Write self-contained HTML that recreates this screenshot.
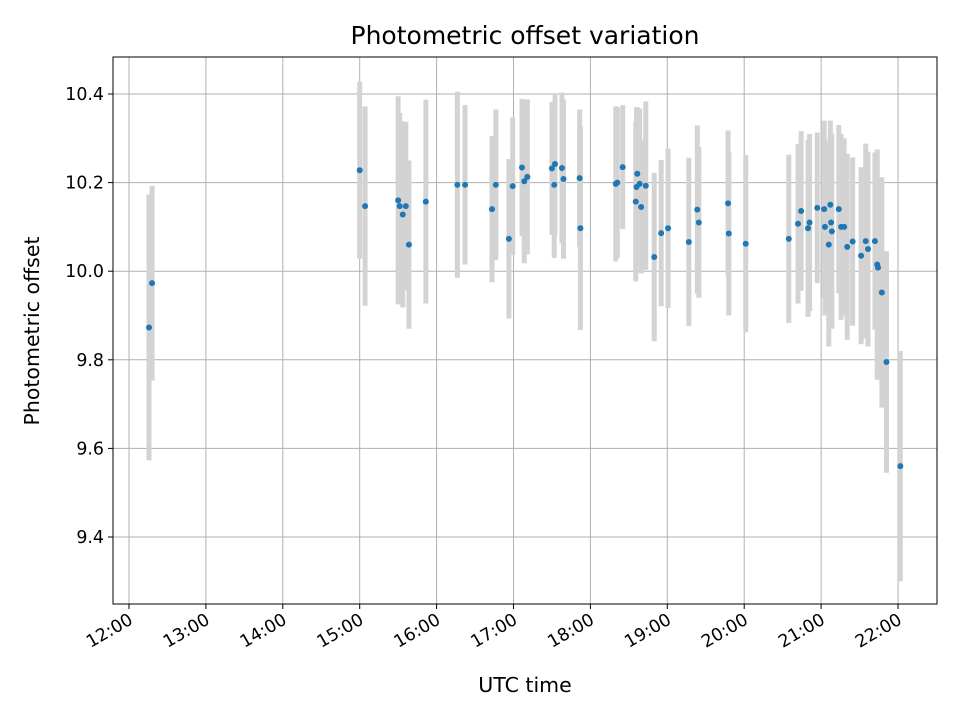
<!DOCTYPE html>
<html><head><meta charset="utf-8"><style>
body{margin:0;background:#fff;font-family:"Liberation Sans","DejaVu Sans",sans-serif;}
svg text{font-family:"DejaVu Sans","Liberation Sans",sans-serif;}
</style></head><body>
<svg id="chart" width="960" height="720" xmlns="http://www.w3.org/2000/svg">
<rect width="960" height="720" fill="#fff"/>
<text x="525" y="44" text-anchor="middle" font-size="25">Photometric offset variation</text>
<text x="525" y="692" text-anchor="middle" font-size="20.5">UTC time</text>
<text transform="translate(39,331) rotate(-90)" text-anchor="middle" font-size="20.5">Photometric offset</text>
<g id="grid"></g>
<g id="errs"></g>
<g id="pts"></g>
<g id="axes"></g>
</svg>
<script>
const times=[12.26,12.30,15.00,15.07,15.50,15.52,15.56,15.60,15.64,15.86,16.27,16.37,16.72,16.77,16.94,16.99,17.11,17.14,17.18,17.50,17.53,17.54,17.63,17.65,17.86,17.87,18.33,18.35,18.42,18.59,18.60,18.61,18.64,18.66,18.72,18.83,18.92,19.01,19.28,19.39,19.41,19.79,19.80,20.02,20.58,20.70,20.74,20.83,20.85,20.95,21.04,21.05,21.10,21.12,21.13,21.14,21.23,21.26,21.30,21.34,21.41,21.52,21.58,21.61,21.70,21.73,21.74,21.79,21.85,22.03];
const offsets=[9.873,9.973,10.228,10.147,10.160,10.147,10.128,10.147,10.060,10.157,10.195,10.195,10.140,10.195,10.073,10.192,10.234,10.203,10.213,10.232,10.195,10.242,10.233,10.208,10.210,10.097,10.197,10.200,10.235,10.157,10.190,10.220,10.197,10.145,10.193,10.032,10.086,10.097,10.066,10.139,10.110,10.153,10.085,10.062,10.073,10.107,10.136,10.097,10.110,10.143,10.140,10.100,10.060,10.150,10.110,10.090,10.140,10.100,10.100,10.055,10.067,10.035,10.068,10.050,10.068,10.015,10.008,9.952,9.795,9.560];
const errors=[0.30,0.22,0.20,0.225,0.235,0.21,0.21,0.19,0.19,0.23,0.21,0.18,0.165,0.17,0.18,0.155,0.155,0.185,0.175,0.15,0.165,0.16,0.17,0.18,0.155,0.23,0.175,0.17,0.14,0.18,0.18,0.15,0.17,0.15,0.19,0.19,0.165,0.18,0.19,0.19,0.17,0.165,0.185,0.20,0.19,0.18,0.18,0.20,0.20,0.17,0.20,0.20,0.23,0.19,0.20,0.22,0.19,0.21,0.20,0.21,0.19,0.20,0.22,0.22,0.20,0.26,0.20,0.26,0.25,0.26];
const xTickHours=[12,13,14,15,16,17,18,19,20,21,22];
const xTickLabels=["12:00","13:00","14:00","15:00","16:00","17:00","18:00","19:00","20:00","21:00","22:00"];
const yTicks=[9.4,9.6,9.8,10.0,10.2,10.4];
const yTickLabels=["9.4","9.6","9.8","10.0","10.2","10.4"];

const L=113,R=937,T=57,B=604;
const xs=h=>129+(h-12)*76.9;
const ys=v=>94+(10.4-v)*443;
const NS="http://www.w3.org/2000/svg";
function mk(tag,attrs,parent){const e=document.createElementNS(NS,tag);for(const k in attrs)e.setAttribute(k,attrs[k]);parent.appendChild(e);return e;}
const grid=document.getElementById('grid'),errs=document.getElementById('errs'),pts=document.getElementById('pts'),axes=document.getElementById('axes');
xTickHours.forEach((h,i)=>{
  const x=xs(h);
  const g=mk('line',{x1:x,x2:x,y1:T,y2:B,stroke:'#b0b0b0','stroke-width':1},grid);
  
  
  const t=mk('line',{x1:x,x2:x,y1:B,y2:B+5,stroke:'#000','stroke-width':1},axes);
  
  
  const tx=mk('text',{x:0,y:0,'text-anchor':'end','font-size':17.4,transform:`translate(${x+5},${B+19}) rotate(-30)`},axes);
  tx.textContent=xTickLabels[i];
  
  
});
yTicks.forEach((v,i)=>{
  const y=ys(v);
  const g=mk('line',{x1:L,x2:R,y1:y,y2:y,stroke:'#b0b0b0','stroke-width':1},grid);
  
  
  const t=mk('line',{x1:L-5,x2:L,y1:y,y2:y,stroke:'#000','stroke-width':1},axes);
  
  
  const tx=mk('text',{x:L-9,y:y+6,'text-anchor':'end','font-size':17.4},axes);
  tx.textContent=yTickLabels[i];
  
  
});
const fr=mk('rect',{x:L,y:T,width:R-L,height:B-T,fill:'none',stroke:'#000','stroke-width':1},axes);


times.forEach((h,i)=>{
  const x=xs(h);
  const e=mk('line',{x1:x,x2:x,y1:ys(offsets[i]+errors[i]),y2:ys(offsets[i]-errors[i]),stroke:'#d3d3d3','stroke-width':5},errs);
  
  
});
times.forEach((h,i)=>{
  const c=mk('circle',{cx:xs(h),cy:ys(offsets[i]),r:3,fill:'#1f77b4'},pts);
  
  
});
</script>
</body></html>
